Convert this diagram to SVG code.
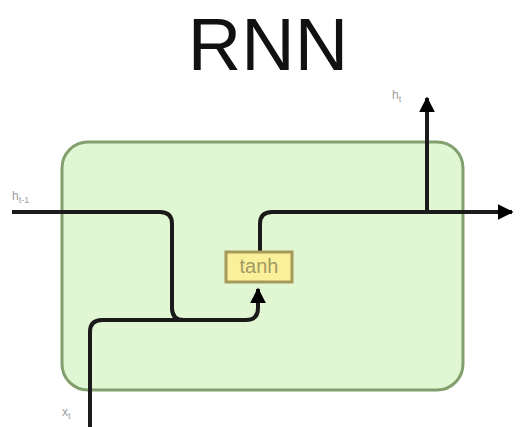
<svg xmlns="http://www.w3.org/2000/svg" width="521" height="427" viewBox="0 0 521 427">
<defs>
<style>
.wire{fill:none;stroke:#1a1a1a;stroke-width:4;stroke-linecap:butt}
.lbl{font-family:"Liberation Sans",Arial,sans-serif;fill:#a0a0a0}
</style>
<marker id="arr" viewBox="0 0 10 10" refX="9" refY="5" markerWidth="4" markerHeight="4" orient="auto" markerUnits="strokeWidth">
<path d="M0,0 L10,5 L0,10 z" fill="#000"/>
</marker>
</defs>
<rect width="521" height="427" fill="#fff"/>
<text x="268" y="70" text-anchor="middle" font-family="Liberation Sans,Arial,sans-serif" font-size="74" fill="#111">RNN</text>
<g id="cell">
<rect x="62" y="142" width="401" height="248" rx="26" ry="26" fill="#e1f6d2" stroke="#82a06e" stroke-width="3"/>
</g>
<g id="connectors">
<path class="wire" d="M12,212 H160 Q172,212 172,224 V308 Q172,320 184,320 H246 Q258,320 258,308 V289" marker-end="url(#arr)"/>
<path class="wire" d="M90,427 V332 Q90,320 102,320 H184"/>
<path class="wire" d="M260,252 V224 Q260,212 272,212 H512" marker-end="url(#arr)"/>
<path class="wire" d="M427,212 V98" marker-end="url(#arr)"/>
</g>
<g id="tanh">
<rect x="226" y="252" width="66" height="30" fill="#fbf09a" stroke="#a59a5a" stroke-width="3"/>
<text x="259" y="273" text-anchor="middle" font-family="Liberation Sans,Arial,sans-serif" font-size="20" fill="#a09a62">tanh</text>
</g>
<g id="label-hprev">
<text class="lbl" x="12" y="200" font-size="12">h<tspan font-size="9" dy="3">t-1</tspan></text>
</g>
<g id="label-ht">
<text class="lbl" x="392" y="99" font-size="12">h<tspan font-size="9" dy="3">t</tspan></text>
</g>
<g id="label-xt">
<text class="lbl" x="62" y="416" font-size="12">x<tspan font-size="9" dy="3">t</tspan></text>
</g>
</svg>
